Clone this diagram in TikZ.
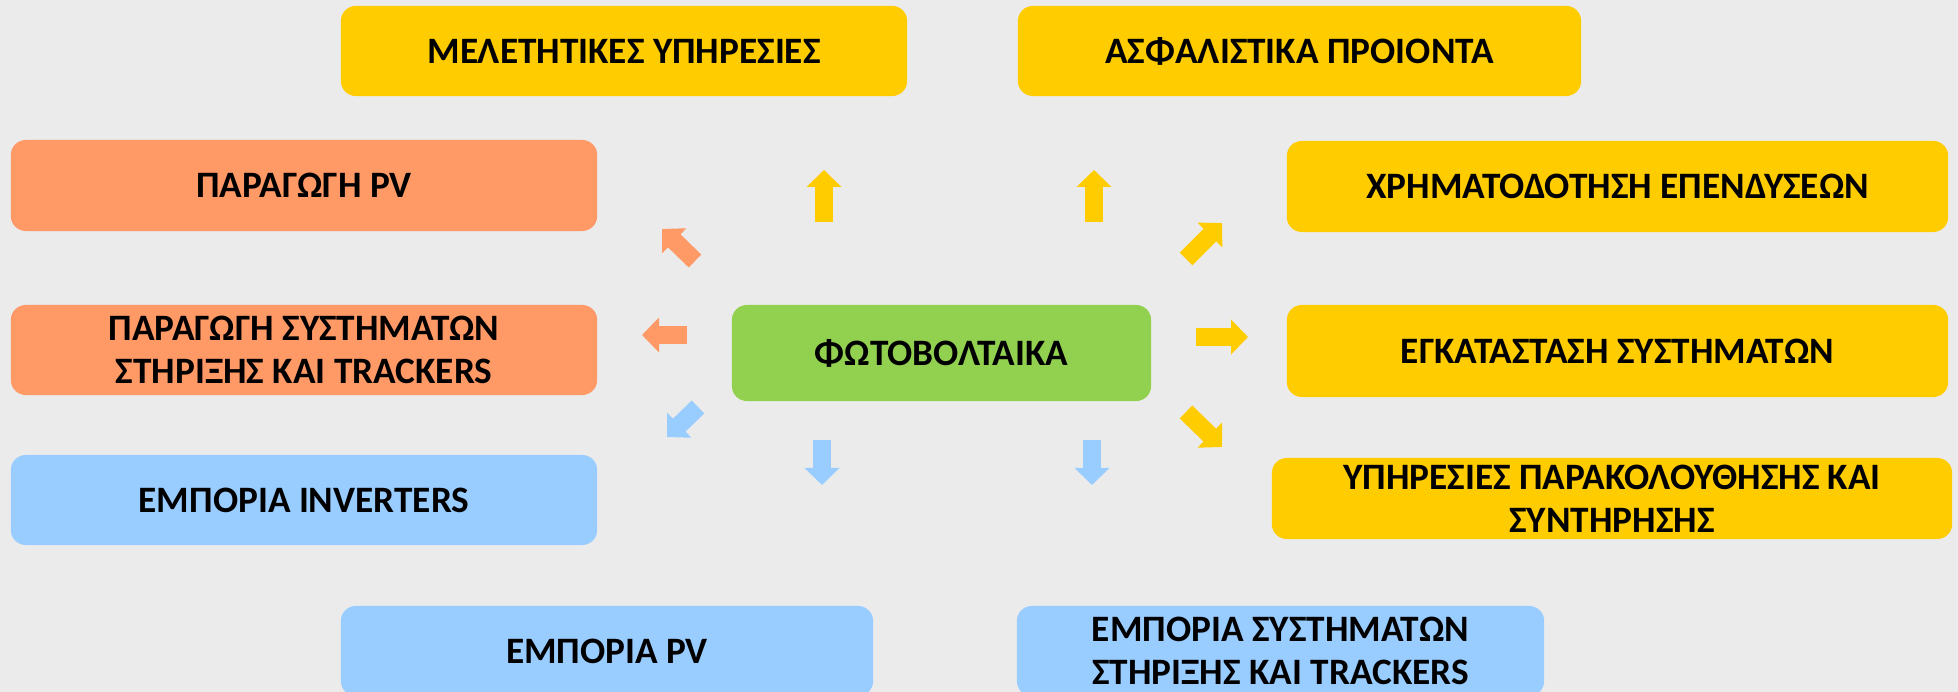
\documentclass[tikz,border=0pt]{standalone}
\usepackage{fontspec}
\setmainfont{Carlito}
\usetikzlibrary{arrows.meta}

\definecolor{pvyellow}{HTML}{FFCC00}
\definecolor{pvorange}{HTML}{FF9966}
\definecolor{pvblue}{HTML}{99CCFF}
\definecolor{pvgreen}{HTML}{92D050}
\definecolor{pvback}{HTML}{EBEBEB}

\tikzset{
    box/.style={rounded corners=0.15cm, inner sep=0pt, minimum height=0.9cm, align=center,
        font=\bfseries\fontsize{10.6pt}{12.3pt}\selectfont},
    fat/.style={line width=0.18cm, -{Triangle[width=0.34cm, length=0.17cm]}},
}

\begin{document}
\begin{tikzpicture}[x=0.01cm, y=-0.01cm]
    \fill[pvback] (0,0) rectangle (1958,692);
    \useasboundingbox (0,0) rectangle (1958,692);

    % centre
    \node[box, fill=pvgreen, minimum width=4.19cm, minimum height=0.96cm] (pv) at (941.5,353) {ΦΩΤΟΒΟΛΤΑΙΚΑ};

    % top row
    \node[box, fill=pvyellow, minimum width=5.66cm] (meletes) at (624,51) {ΜΕΛΕΤΗΤΙΚΕΣ ΥΠΗΡΕΣΙΕΣ};
    \node[box, fill=pvyellow, minimum width=5.63cm] (asfalisi) at (1299.5,51) {ΑΣΦΑΛΙΣΤΙΚΑ ΠΡΟΙΟΝΤΑ};

    % left column
    \node[box, fill=pvorange, minimum width=5.86cm, minimum height=0.91cm] (paragogi) at (304,185.5) {ΠΑΡΑΓΩΓΗ PV};
    \node[box, fill=pvorange, minimum width=5.86cm] (stiriksi) at (304,350) {ΠΑΡΑΓΩΓΗ ΣΥΣΤΗΜΑΤΩΝ\\ΣΤΗΡΙΞΗΣ ΚΑΙ TRACKERS};
    \node[box, fill=pvblue, minimum width=5.86cm] (inverters) at (304,500) {ΕΜΠΟΡΙΑ INVERTERS};

    % right column
    \node[box, fill=pvyellow, minimum width=6.61cm, minimum height=0.91cm] (xrima) at (1617.5,186.5) {ΧΡΗΜΑΤΟΔΟΤΗΣΗ ΕΠΕΝΔΥΣΕΩΝ};
    \node[box, fill=pvyellow, minimum width=6.61cm, minimum height=0.92cm] (egkat) at (1617.5,351) {ΕΓΚΑΤΑΣΤΑΣΗ ΣΥΣΤΗΜΑΤΩΝ};
    \node[box, fill=pvyellow, minimum width=6.8cm, minimum height=0.81cm] (service) at (1612,498.5) {ΥΠΗΡΕΣΙΕΣ ΠΑΡΑΚΟΛΟΥΘΗΣΗΣ ΚΑΙ\\ΣΥΝΤΗΡΗΣΗΣ};

    % bottom row
    \node[box, fill=pvblue, minimum width=5.32cm] (emporio) at (607,651) {ΕΜΠΟΡΙΑ PV};
    \node[box, fill=pvblue, minimum width=5.27cm] (trackers) at (1280.5,651) {ΕΜΠΟΡΙΑ ΣΥΣΤΗΜΑΤΩΝ\\ΣΤΗΡΙΞΗΣ ΚΑΙ TRACKERS};

    % arrows round the centre
    \coordinate (up1a) at (824,222);  \coordinate (up1b) at (824,170);
    \coordinate (up2a) at (1094,222); \coordinate (up2b) at (1094,170);
    \coordinate (nwa) at (695,261);   \coordinate (nwb) at (662,229);
    \coordinate (wa) at (687,335);    \coordinate (wb) at (642,335);
    \coordinate (swa) at (698,407);   \coordinate (swb) at (667,437);
    \coordinate (dn1a) at (822,440);  \coordinate (dn1b) at (822,485);
    \coordinate (dn2a) at (1092,440); \coordinate (dn2b) at (1092,485);
    \coordinate (nea) at (1186,259);  \coordinate (neb) at (1222,223);
    \coordinate (ea) at (1196,337);   \coordinate (eb) at (1248,337);
    \coordinate (sea) at (1186,412);  \coordinate (seb) at (1222,447);

    \draw[fat, pvyellow] (up1a) -- (up1b);
    \draw[fat, pvyellow] (up2a) -- (up2b);
    \draw[fat, pvorange] (nwa) -- (nwb);
    \draw[fat, pvorange] (wa) -- (wb);
    \draw[fat, pvblue] (swa) -- (swb);
    \draw[fat, pvblue] (dn1a) -- (dn1b);
    \draw[fat, pvblue] (dn2a) -- (dn2b);
    \draw[fat, pvyellow] (nea) -- (neb);
    \draw[fat, pvyellow] (ea) -- (eb);
    \draw[fat, pvyellow] (sea) -- (seb);
\end{tikzpicture}
\end{document}
